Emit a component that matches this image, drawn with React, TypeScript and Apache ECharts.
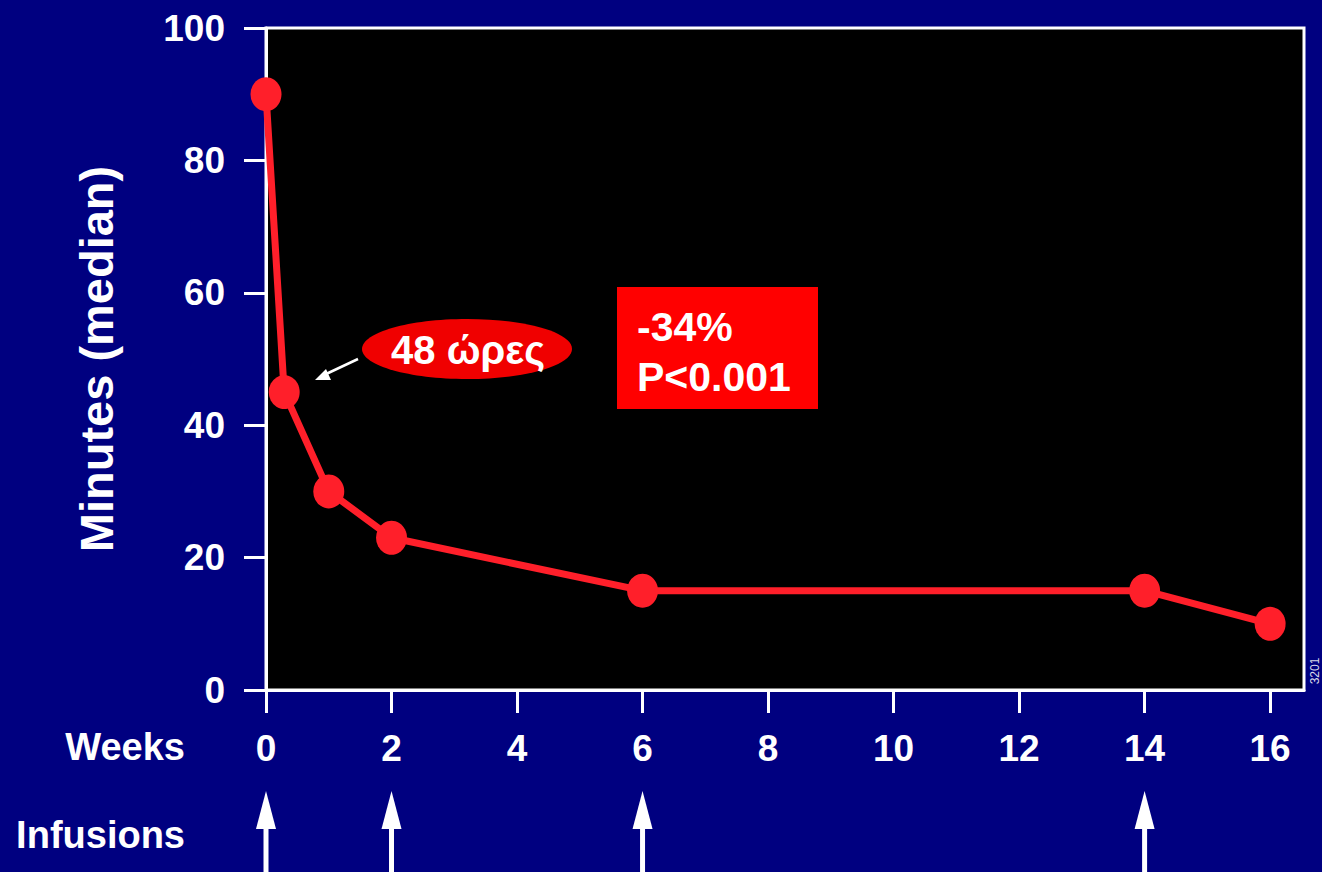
import React, { useEffect, useRef } from "react";
import * as echarts from "echarts";

// Data
const weeks = [0, 0.29, 1, 2, 6, 14, 16];
const minutes = [90, 45, 30, 23, 15, 15, 10];
const infusionWeeks = [0, 2, 6, 14];
const xTickValues = [0, 2, 4, 6, 8, 10, 12, 14, 16];
const yAxisTitle = "Minutes (median)";
const xRowLabel = "Weeks";
const infusionLabel = "Infusions";
const annotationText = "48 ώρες";
const statLines = ["-34%", "P<0.001"];
const slideCode = "3201";

const FONT = '"Liberation Sans", Arial, Helvetica, sans-serif';
const NAVY = "#000080";
const LINE_RED = "#ff1f2a";

export default function App() {
  const ref = useRef<HTMLDivElement>(null);

  useEffect(() => {
    if (!ref.current) return;
    const chart = echarts.init(ref.current, null, { renderer: "svg" });

    const axisLabelStyle = {
      color: "#fff",
      fontSize: 37,
      fontWeight: "bold",
      fontFamily: FONT,
    };

    chart.setOption({
      animation: false,
      backgroundColor: NAVY,
      grid: {
        left: 266,
        right: 18,
        top: 28,
        bottom: 182,
        show: true,
        backgroundColor: "#000",
        borderColor: "#fff",
        borderWidth: 3,
      },
      xAxis: {
        type: "value",
        min: 0,
        max: 16.54,
        interval: 2,
        axisLine: { onZero: false, lineStyle: { color: "#fff", width: 3 } },
        axisTick: {
          show: true,
          length: 23,
          customValues: xTickValues,
          lineStyle: { color: "#fff", width: 3 },
        },
        axisLabel: { ...axisLabelStyle, customValues: xTickValues, margin: 40 },
        splitLine: { show: false },
      },
      yAxis: {
        type: "value",
        min: 0,
        max: 100,
        interval: 20,
        axisLine: { show: true, lineStyle: { color: "#fff", width: 3 } },
        axisTick: { show: true, length: 22, lineStyle: { color: "#fff", width: 3 } },
        axisLabel: { ...axisLabelStyle, margin: 41 },
        splitLine: { show: false },
      },
      series: [
        {
          type: "line",
          data: weeks.map((w, i) => [w, minutes[i]]),
          symbol: "circle",
          symbolSize: [31, 34],
          clip: false,
          lineStyle: { color: LINE_RED, width: 7 },
          itemStyle: { color: LINE_RED },
          z: 5,
        },
      ],
    });

    const graphics: any[] = [];

    // Y-axis title (rotated)
    graphics.push({
      type: "text",
      x: 96,
      y: 359,
      rotation: Math.PI / 2,
      style: {
        text: yAxisTitle,
        fill: "#fff",
        font: `bold 47px ${FONT}`,
        align: "center",
        verticalAlign: "middle",
      },
    });

    graphics.push({
      type: "text",
      x: 185,
      y: 747,
      style: { text: xRowLabel, fill: "#fff", font: `bold 38px ${FONT}`, align: "right", verticalAlign: "middle" },
    });
    graphics.push({
      type: "text",
      x: 185,
      y: 835,
      style: { text: infusionLabel, fill: "#fff", font: `bold 38px ${FONT}`, align: "right", verticalAlign: "middle" },
    });

    // Infusion arrows positioned by the x scale
    infusionWeeks.forEach((w) => {
      const px = chart.convertToPixel({ xAxisIndex: 0 }, w) as number;
      graphics.push({
        type: "rect",
        shape: { x: px - 2.5, y: 824, width: 5, height: 60 },
        style: { fill: "#fff" },
      });
      graphics.push({
        type: "polygon",
        shape: { points: [[px - 10, 829], [px, 791], [px + 10, 829]] },
        style: { fill: "#fff" },
      });
    });

    // 48 hours annotation
    graphics.push({
      type: "ellipse",
      shape: { cx: 467, cy: 349, rx: 105, ry: 30 },
      style: { fill: "#f00000" },
      z: 10,
    });
    graphics.push({
      type: "text",
      x: 468,
      y: 350,
      z: 11,
      style: { text: annotationText, fill: "#fff", font: `bold 40px ${FONT}`, align: "center", verticalAlign: "middle" },
    });
    graphics.push({
      type: "line",
      shape: { x1: 358, y1: 359, x2: 324, y2: 375 },
      style: { stroke: "#fff", lineWidth: 2.5 },
      z: 10,
    });
    graphics.push({
      type: "polygon",
      shape: { points: [[315, 380], [326, 369], [331, 380]] },
      style: { fill: "#fff" },
      z: 10,
    });

    // Stat box
    graphics.push({
      type: "rect",
      shape: { x: 617, y: 287, width: 201, height: 122 },
      style: { fill: "#ff0000" },
      z: 10,
    });
    graphics.push({
      type: "text",
      x: 637,
      y: 327,
      z: 11,
      style: { text: statLines[0], fill: "#fff", font: `bold 41px ${FONT}`, align: "left", verticalAlign: "middle" },
    });
    graphics.push({
      type: "text",
      x: 637,
      y: 377,
      z: 11,
      style: { text: statLines[1], fill: "#fff", font: `bold 41px ${FONT}`, align: "left", verticalAlign: "middle" },
    });

    // Slide code
    graphics.push({
      type: "text",
      x: 1315,
      y: 671,
      rotation: Math.PI / 2,
      style: { text: slideCode, fill: "#d8d8e8", font: `12px ${FONT}`, align: "center", verticalAlign: "middle" },
    });

    chart.setOption({ graphic: graphics });

    return () => chart.dispose();
  }, []);

  return (
    <div
      ref={ref}
      style={{ position: "absolute", left: 0, top: 0, width: 1322, height: 872 }}
    />
  );
}
